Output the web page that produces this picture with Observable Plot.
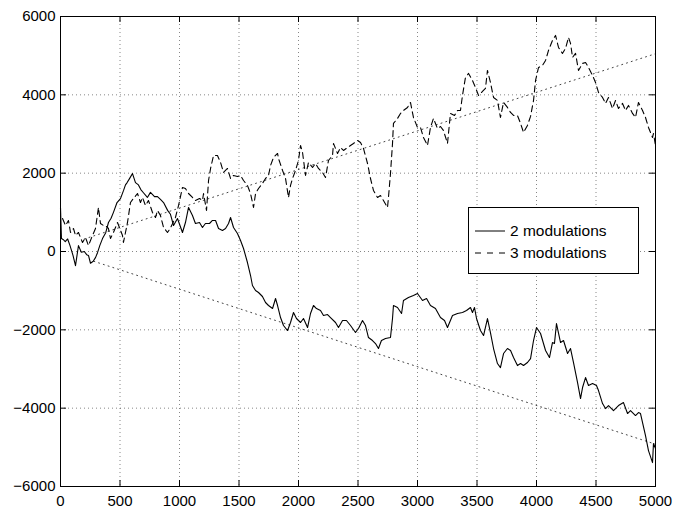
<!DOCTYPE html>
<html>
<head>
<meta charset="utf-8">
<script src="https://cdn.jsdelivr.net/npm/d3@7"></script>
<script src="https://cdn.jsdelivr.net/npm/@observablehq/plot@0.6"></script>
<style>
  html, body { margin: 0; padding: 0; background: #fff; }
  #wrap { position: relative; width: 674px; height: 508px; font-family: "Liberation Sans", Arial, Helvetica, sans-serif; }
  #legend { position: absolute; left: 468px; top: 207px; width: 171px; height: 67px; box-sizing: border-box;
    border: 1px solid #000; background: #fff; font-size: 15.5px; color: #000; }
  .row { position: absolute; left: 0; height: 20px; display: flex; align-items: center; }
  .row svg { margin-left: 6px; margin-right: 5px; }
</style>
</head>
<body>
<div id="wrap"></div>
<script>
// Series "2 modulations" (solid)
const solidX = [0,8,25,40,60,80,105,126,151,175,200,220,235,252,275,295,311,330,353,380,403,425,445,475,504,530,546,560,580,605,630,655,675,697,730,756,790,815,840,866,900,924,950,983,1025,1050,1076,1109,1134,1168,1193,1218,1252,1277,1303,1328,1361,1387,1412,1429,1454,1487,1513,1538,1571,1597,1613,1639,1664,1697,1723,1748,1782,1807,1824,1849,1874,1908,1933,1958,1983,2017,2042,2076,2101,2126,2151,2185,2210,2244,2269,2311,2336,2370,2403,2437,2479,2504,2538,2563,2588,2622,2647,2672,2697,2731,2773,2790,2798,2832,2866,2882,2924,2966,3000,3042,3076,3109,3151,3193,3227,3252,3294,3336,3378,3412,3445,3462,3479,3496,3529,3555,3588,3613,3639,3672,3697,3723,3756,3782,3807,3840,3866,3891,3924,3950,3975,4000,4034,4076,4109,4134,4151,4168,4202,4227,4261,4286,4311,4345,4370,4387,4412,4437,4471,4504,4521,4555,4580,4605,4630,4647,4689,4731,4765,4790,4832,4857,4874,4916,4941,4975,4983,5000];
const solidY = [1120,330,300,250,320,150,-100,-360,150,-20,0,-80,-100,-300,-250,-150,-30,150,330,480,740,850,1000,1250,1350,1560,1700,1760,1860,1990,1760,1700,1580,1500,1380,1510,1400,1400,1330,1250,1050,950,664,843,485,740,1124,919,715,740,613,715,715,792,792,587,536,587,715,868,613,460,281,77,-281,-613,-868,-996,-1047,-1149,-1302,-1379,-1456,-1200,-1379,-1686,-1890,-2018,-1813,-1558,-1711,-1813,-1711,-1941,-1583,-1379,-1456,-1507,-1635,-1609,-1686,-1813,-1941,-1762,-1762,-1890,-2069,-1967,-1762,-1890,-2196,-2273,-2350,-2477,-2273,-2222,-2196,-1711,-1379,-1430,-1583,-1251,-1175,-1124,-1073,-1251,-1200,-1379,-1456,-1686,-1762,-1941,-1635,-1583,-1558,-1507,-1430,-1558,-1430,-1711,-2018,-2145,-1711,-2069,-2477,-2860,-2963,-2605,-2477,-2528,-2707,-2912,-2860,-2912,-2835,-2733,-2273,-1941,-2094,-2528,-2707,-2324,-2350,-1839,-2324,-2273,-2605,-2477,-2835,-3346,-3754,-3473,-3218,-3422,-3371,-3422,-3550,-3882,-4010,-3933,-4010,-4061,-3933,-3857,-4137,-4061,-4188,-4112,-4137,-4699,-5083,-5389,-4904,-5031];

// Series "3 modulations" (dashed)
const dashedX = [17,42,67,84,109,126,151,185,210,235,269,294,319,336,361,378,403,420,445,479,521,529,563,588,613,647,672,689,714,739,773,798,815,840,866,899,924,966,992,1025,1050,1076,1109,1134,1168,1193,1202,1227,1244,1261,1286,1319,1345,1370,1403,1429,1454,1487,1513,1538,1571,1597,1622,1639,1664,1697,1723,1748,1765,1790,1824,1832,1866,1891,1916,1933,1950,1975,2000,2017,2034,2059,2084,2118,2143,2168,2202,2227,2252,2286,2294,2328,2353,2378,2412,2437,2462,2496,2521,2546,2580,2605,2630,2664,2689,2714,2748,2756,2773,2790,2798,2832,2857,2882,2916,2941,2966,3000,3025,3050,3084,3109,3134,3168,3193,3218,3252,3277,3311,3336,3361,3378,3403,3429,3462,3487,3513,3546,3571,3588,3613,3639,3672,3697,3723,3756,3782,3807,3840,3866,3891,3924,3950,3975,3992,4017,4050,4076,4101,4134,4160,4185,4218,4244,4269,4286,4303,4328,4353,4387,4412,4437,4471,4496,4521,4555,4580,4605,4639,4664,4689,4723,4748,4773,4807,4832,4857,4891,4916,4941,4975,4983,5000];
const dashedY = [843,664,792,485,587,409,485,230,358,153,409,587,1124,715,664,664,587,332,485,741,409,230,741,1251,1354,1481,1251,1379,1175,1303,996,868,1047,919,613,485,600,868,1175,1635,1609,1481,1379,1303,1354,1303,1481,1047,1813,2120,2452,2452,2273,2018,2120,1864,1941,1915,1941,1813,1686,1481,1124,1481,1609,1737,1864,1941,2196,2401,2503,2375,2069,1864,1379,1686,1864,2069,2324,2707,2528,1941,2273,2145,2247,2120,2018,1890,2324,2452,2758,2503,2656,2580,2656,2707,2758,2835,2784,2631,2247,1864,1558,1379,1430,1303,1124,1379,1992,2758,3269,3397,3525,3601,3678,3805,3422,3167,3167,2912,2707,3167,3397,3141,3192,3090,2758,3525,3473,3601,3601,3984,4444,4546,4367,4188,3984,4086,4163,4623,4316,3933,3856,3422,3805,3678,3550,3473,3473,3269,3039,3218,3450,3856,4367,4699,4750,4878,5134,5389,5517,5210,5057,5185,5466,5312,4955,5057,4623,4802,4827,4699,4495,4316,4061,3933,3780,3933,3652,3856,3652,3780,3601,3729,3525,3422,3805,3601,3422,3167,2912,3014,2707];

// Dotted reference lines
const upRefX = [200, 5000];
const upRefY = [320, 5050];
const downRefX = [280, 5000];
const downRefY = [-250, -4920];

// Axes
const xTicks = [0,500,1000,1500,2000,2500,3000,3500,4000,4500,5000];
const yTicks = [-6000,-4000,-2000,0,2000,4000,6000];
const seriesNames = ["2 modulations", "3 modulations"];

const solid = solidX.map((x, i) => ({x, y: solidY[i]}));
const dashed = dashedX.map((x, i) => ({x, y: dashedY[i]}));
const upRef = upRefX.map((x, i) => ({x, y: upRefY[i]}));
const downRef = downRefX.map((x, i) => ({x, y: downRefY[i]}));

const fmt = d => (d < 0 ? "\u2212" : "") + Math.abs(d);
const W = 674, H = 508, mt = 16, mr = 19, mb = 22, ml = 60;
const pw = W - ml - mr, ph = H - mt - mb, tk = 6;

const chart = Plot.plot({
  width: W, height: H,
  marginTop: mt, marginRight: mr, marginBottom: mb, marginLeft: ml,
  style: {fontFamily: "'Liberation Sans', Arial, Helvetica, sans-serif", fontSize: "15px", background: "#fff", color: "#000", overflow: "visible"},
  x: {domain: [0, 5000]},
  y: {domain: [-6000, 6000]},
  marks: [
    Plot.gridX(xTicks, {stroke: "#000", strokeOpacity: 0.6, strokeDasharray: "1,3", strokeWidth: 0.8}),
    Plot.gridY(yTicks, {stroke: "#000", strokeOpacity: 0.6, strokeDasharray: "1,3", strokeWidth: 0.8}),
    Plot.gridX(xTicks, {stroke: "#000", strokeOpacity: 1, insetTop: ph - tk}),
    Plot.gridX(xTicks, {stroke: "#000", strokeOpacity: 1, insetBottom: ph - tk}),
    Plot.gridY(yTicks, {stroke: "#000", strokeOpacity: 1, insetRight: pw - tk}),
    Plot.gridY(yTicks, {stroke: "#000", strokeOpacity: 1, insetLeft: pw - tk}),
    Plot.line(upRef, {x: "x", y: "y", stroke: "#444", strokeWidth: 1, strokeDasharray: "1,4"}),
    Plot.line(downRef, {x: "x", y: "y", stroke: "#444", strokeWidth: 1, strokeDasharray: "1,4"}),
    Plot.line(dashed, {x: "x", y: "y", stroke: "#000", strokeWidth: 1.1, strokeDasharray: "6,4"}),
    Plot.line(solid, {x: "x", y: "y", stroke: "#000", strokeWidth: 1.1}),
    Plot.axisX(xTicks, {tickSize: 0, tickPadding: 9, tickFormat: fmt, label: null}),
    Plot.axisY(yTicks, {tickSize: 0, tickPadding: 5, tickFormat: fmt, label: null}),
    Plot.frame({stroke: "#000", strokeWidth: 1})
  ]
});

const wrap = document.getElementById("wrap");
wrap.appendChild(chart);

const legend = document.createElement("div");
legend.id = "legend";
const dashes = [null, "6,6"];
seriesNames.forEach((name, i) => {
  const row = document.createElement("div");
  row.className = "row";
  row.style.top = (13 + i * 22) + "px";
  row.innerHTML = `<svg width="30" height="4"><line x1="0" y1="2" x2="30" y2="2" stroke="#000" stroke-width="1" ${dashes[i] ? `stroke-dasharray="${dashes[i]}"` : ""}/></svg><span>${name}</span>`;
  legend.appendChild(row);
});
wrap.appendChild(legend);
</script>
</body>
</html>
